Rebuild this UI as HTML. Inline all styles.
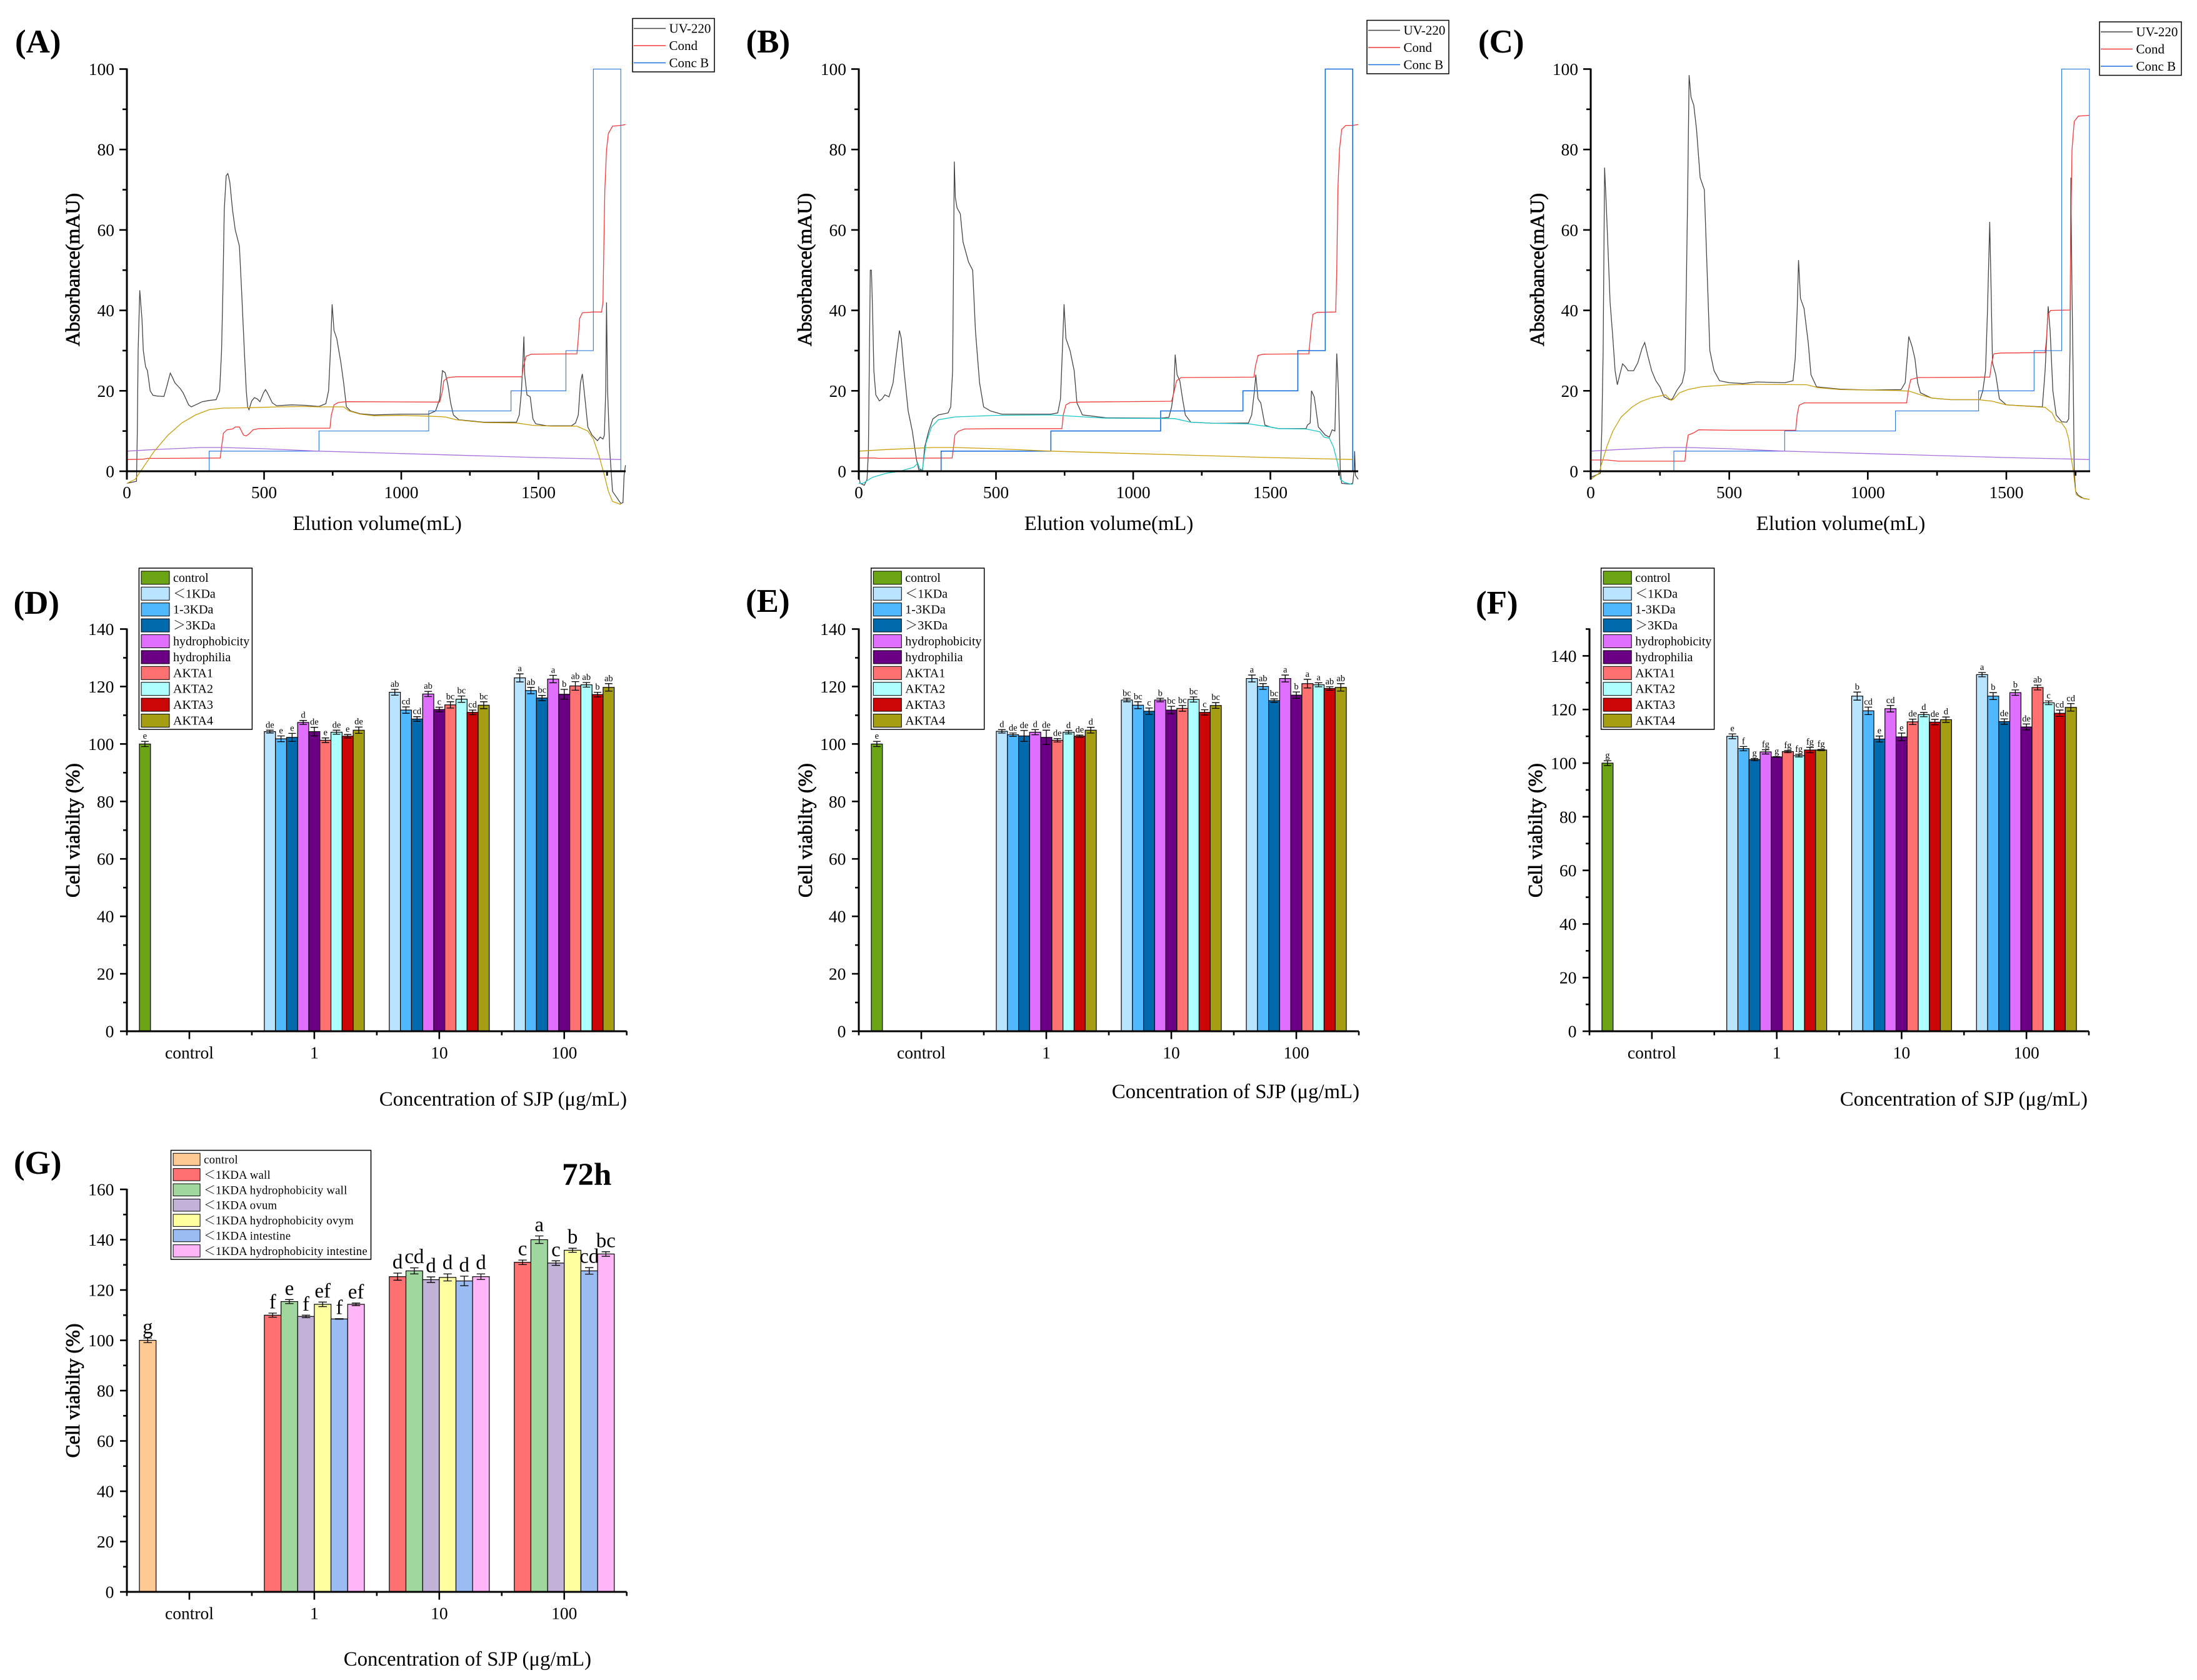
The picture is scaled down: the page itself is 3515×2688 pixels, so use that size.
<!DOCTYPE html>
<html lang="en">
<head>
<meta charset="utf-8">
<title>Chromatograms and cell viability panels</title>
<style>
html,body{margin:0;padding:0;background:#fff;}
body{width:3515px;height:2688px;overflow:hidden;}
svg{display:block;}
text{font-family:"Liberation Serif","Noto Serif CJK SC",serif;fill:#000;}
.panel-label{font-weight:bold;font-size:53px;}
.y-title{font-size:32px;stroke:#000;stroke-width:.7px;text-anchor:middle;}
.x-title{font-size:32.8px;}
</style>
</head>
<body>
<svg id="figure" xmlns="http://www.w3.org/2000/svg" width="3515" height="2688" viewBox="0 0 3515 2688">
  <rect x="0" y="0" width="3515" height="2688" fill="#fff"/>
  <g id="panel-a">
    <text class="panel-label" x="24" y="84">(A)</text>
    <text class="y-title" transform="translate(127 431.5) rotate(-90)">Absorbance(mAU)</text>
    <text class="x-title" x="603.5" y="848" text-anchor="middle">Elution volume(mL)</text>
  </g>
  <g id="panel-b">
    <text class="panel-label" x="1193.5" y="84">(B)</text>
    <text class="y-title" transform="translate(1298 431.5) rotate(-90)">Absorbance(mAU)</text>
    <text class="x-title" x="1774" y="848" text-anchor="middle">Elution volume(mL)</text>
  </g>
  <g id="panel-c">
    <text class="panel-label" x="2365" y="84">(C)</text>
    <text class="y-title" transform="translate(2470 431.5) rotate(-90)">Absorbance(mAU)</text>
    <text class="x-title" x="2945" y="848" text-anchor="middle">Elution volume(mL)</text>
  </g>
  <g id="panel-d">
    <text class="panel-label" x="21.5" y="982">(D)</text>
    <text class="y-title" transform="translate(127 1328.6) rotate(-90)">Cell viabilty (%)</text>
    <text class="x-title" x="1003" y="1769" text-anchor="end">Concentration of SJP (μg/mL)</text>
  </g>
  <g id="panel-e">
    <text class="panel-label" x="1193" y="979">(E)</text>
    <text class="y-title" transform="translate(1299 1328.6) rotate(-90)">Cell viabilty (%)</text>
    <text class="x-title" x="2175" y="1757" text-anchor="end">Concentration of SJP (μg/mL)</text>
  </g>
  <g id="panel-f">
    <text class="panel-label" x="2361" y="982">(F)</text>
    <text class="y-title" transform="translate(2467 1328.6) rotate(-90)">Cell viabilty (%)</text>
    <text class="x-title" x="3340" y="1769" text-anchor="end">Concentration of SJP (μg/mL)</text>
  </g>
  <g id="panel-g">
    <text class="panel-label" x="22" y="1878">(G)</text>
    <text x="899" y="1896" font-size="51" font-weight="bold">72h</text>
    <text class="y-title" transform="translate(127 2225) rotate(-90)">Cell viabilty (%)</text>
    <text class="x-title" x="946" y="2665" text-anchor="end">Concentration of SJP (μg/mL)</text>
  </g>
</svg>
<script>
/* ---------- Chromatogram data: [volume mL, mAU] ---------- */
const chromYTicks = [0,20,40,60,80,100];
const chromYMinor = [10,30,50,70,90];
const chromXTicks = [0,500,1000,1500];
const chromXMinor = [250,750,1250,1750];
const chromLegendLabels = ['UV-220','Cond','Conc B'];

const concB = [[0,0],[300,0],[300,5],[700,5],[700,10],[1100,10],[1100,15],[1400,15],[1400,20],[1600,20],[1600,30],[1700,30],[1700,100],[1800,100],[1800,0],[1817,0]];
const flowLine = [[0,5],[100,5.4],[270,5.9],[350,5.9],[500,5.6],[700,5],[1000,4.4],[1300,3.8],[1500,3.4],[1700,3.1],[1800,2.9]];

const aUv = [[0,-3],[35,-2.5],[38,10],[41,30],[47,45],[55,38],[60,30],[68,26],[75,25],[85,20],[95,18.9],[110,18.7],[135,18.6],[145,21],[158,24.4],[165,23.5],[175,22],[195,20.5],[205,19.5],[225,16.5],[235,16],[250,16.5],[275,17.3],[300,17.6],[325,17.8],[338,20],[345,30],[350,45],[355,65],[362,73.5],[368,74],[375,72],[385,65],[395,60],[410,56],[418,45],[428,30],[435,20],[440,16],[445,15.3],[455,17.5],[465,18.3],[475,18],[485,17.3],[498,19.5],[505,20.3],[512,19.5],[530,17],[545,16.3],[600,16.5],[650,16.4],[700,16.1],[725,16.8],[735,20],[742,30],[748,41.5],[755,35],[765,33],[780,27],[790,22],[800,16],[815,15],[850,14.3],[900,14],[1000,14.2],[1100,14.2],[1125,15],[1140,18],[1150,25],[1160,24.5],[1170,21.5],[1180,17],[1190,14],[1210,12.8],[1300,12.2],[1420,12.2],[1430,14],[1438,20],[1443,27],[1447,33.5],[1450,24],[1458,19],[1470,18.5],[1480,13],[1490,11.8],[1530,11.3],[1620,11.3],[1635,12],[1645,14],[1653,22],[1660,24.2],[1668,19],[1680,11],[1695,9],[1715,7.6],[1725,8.5],[1735,8],[1740,9],[1745,20],[1748,42],[1752,20],[1760,5],[1770,-5],[1800,-8],[1808,-7.8],[1812,-1],[1817,1.5]];
const aCond = [[0,2.9],[60,3],[75,3.2],[150,3.2],[340,3.3],[345,6],[352,9.5],[365,10.3],[385,10.5],[395,11],[410,11],[425,9],[435,8.8],[445,9.3],[460,10.3],[480,10.6],[600,10.7],[740,10.7],[745,14],[755,16.5],[770,17.1],[800,17.3],[1140,17.2],[1150,20],[1155,22.5],[1170,23.3],[1200,23.5],[1440,23.5],[1445,26],[1455,28.6],[1475,29.1],[1640,29.2],[1645,33],[1650,38],[1660,39.4],[1700,39.6],[1730,39.6],[1735,42],[1738,55],[1742,70],[1748,80],[1755,84],[1770,85.8],[1800,86],[1817,86.2]];
const aGold = [[0,-3],[30,-2],[50,0],[70,2],[100,5],[150,9],[200,12],[250,14],[300,15.3],[350,15.7],[450,15.8],[550,16],[650,16.1],[700,16],[790,16],[810,15],[850,14.2],[900,13.8],[1000,13.9],[1100,13.7],[1160,13.5],[1200,12.8],[1300,12.1],[1420,12],[1480,11.4],[1550,11.2],[1640,11.2],[1680,10],[1700,8],[1720,4],[1740,-1],[1755,-5],[1770,-7.5],[1790,-8],[1800,-8.3]];

const bUv = [[0,-1],[5,-3],[20,-3.5],[30,-2],[35,5],[38,25],[42,50],[46,50],[50,40],[55,25],[62,19],[75,17.5],[85,18],[95,19],[110,18.5],[125,22],[135,28],[148,35],[155,33],[165,25],[180,15],[195,10],[210,3],[220,0],[225,0.5],[232,0],[240,6],[255,10],[270,13],[290,14],[325,14.5],[335,16],[342,25],[345,50],[348,77],[352,68],[358,65.5],[370,64],[380,57],[400,52],[415,50],[425,35],[440,22],[455,16],[480,15],[520,14.2],[600,14.2],[700,14.2],[725,14.5],[735,18],[742,30],[748,41.5],[755,33],[770,30],[785,25],[795,17],[815,14],[900,13.3],[1100,13.2],[1130,13.4],[1140,16],[1148,20],[1153,29],[1160,24],[1170,22.5],[1180,18],[1190,14],[1210,12.2],[1300,11.9],[1420,12],[1432,14],[1442,20],[1447,24],[1455,18],[1465,17],[1480,11.5],[1500,11],[1530,10.6],[1630,10.6],[1635,11.5],[1645,12],[1650,20],[1660,18.5],[1675,11],[1700,9],[1715,8.5],[1725,10.3],[1735,10],[1742,29.3],[1748,20],[1755,0],[1760,-3],[1790,-3.2],[1800,-3],[1805,0],[1807,5],[1810,-1],[1820,-2]];
const bCond = [[0,3.3],[60,3.3],[70,3.2],[340,3.3],[345,6],[350,9],[362,9.9],[385,10.5],[500,10.6],[740,10.6],[745,14],[755,16.5],[770,17.1],[800,17.2],[1140,17.4],[1150,20],[1158,22.5],[1175,23.3],[1440,23.4],[1445,26],[1455,28.8],[1475,29.1],[1640,29.2],[1648,35],[1655,39],[1670,39.5],[1738,39.6],[1742,50],[1746,70],[1752,80],[1760,85],[1775,86],[1800,86],[1820,86.2]];
const bTeal = [[0,-3],[15,-3],[50,-1.5],[100,-0.5],[150,0],[200,1],[215,2],[225,0],[232,0.5],[245,7],[265,11],[290,12.8],[350,13.5],[500,13.9],[700,14],[900,13.2],[1150,13.1],[1210,12.2],[1300,11.9],[1420,11.8],[1500,11],[1530,10.6],[1630,10.5],[1680,9.8],[1695,8.5],[1715,8.2],[1730,6],[1745,2],[1755,-2],[1770,-2.8],[1800,-3.3]];

const cUv = [[0,-1.5],[35,-0.5],[40,10],[45,30],[50,75.5],[55,68],[62,56],[70,42],[79,34],[88,25],[96,21.5],[105,24],[115,26.7],[125,26],[135,25],[155,25],[170,27],[185,30.5],[195,32],[205,29],[220,25],[235,22.5],[250,21],[265,18.5],[285,17.8],[295,18],[310,20],[330,22],[340,25],[345,45],[350,70],[355,98.5],[362,93],[372,91],[382,85],[395,73],[410,70],[420,50],[430,30],[445,25],[465,22.5],[500,22],[550,21.8],[600,22.2],[700,22],[730,22.5],[738,28],[745,40],[750,52.5],[757,43],[770,40.5],[785,32],[795,24],[815,21],[900,20.4],[1000,20.2],[1120,20.3],[1135,22],[1142,28],[1148,33.5],[1160,31],[1170,28],[1180,22],[1190,19.5],[1230,18.2],[1300,17.8],[1405,17.8],[1415,20],[1425,25],[1432,40],[1440,62],[1445,45],[1450,27],[1462,24],[1475,18],[1500,16.5],[1630,16],[1640,25],[1651,41],[1658,35],[1668,20],[1680,14],[1700,12.3],[1718,12.2],[1725,13],[1730,30],[1733,73],[1737,45],[1742,20],[1745,0],[1750,-5],[1760,-6],[1780,-6.8],[1800,-7]];
const cCond = [[0,2.8],[60,2.8],[100,2.5],[340,2.5],[345,6],[352,9],[370,9.5],[390,10.3],[500,10.2],[740,10.2],[745,14],[752,16.4],[770,17],[1140,17],[1146,20],[1155,22.8],[1180,23.3],[1440,23.4],[1447,27],[1455,29.2],[1480,29.4],[1640,29.5],[1645,33],[1650,39],[1660,40],[1730,40.1],[1733,60],[1737,80],[1745,87],[1760,88.3],[1800,88.5]];
const cGold = [[0,-2],[30,-0.5],[40,2],[60,6.5],[80,10],[110,13.5],[150,16],[180,17.3],[220,18.3],[270,19],[290,17.6],[300,18],[320,19.5],[350,20.3],[400,21],[500,21.5],[600,21.6],[780,21.5],[820,20.8],[900,20.3],[1100,20.1],[1150,19.9],[1190,19],[1230,18.2],[1300,17.8],[1400,17.8],[1450,17.4],[1500,16.5],[1640,15.9],[1665,14.5],[1680,12.5],[1700,12],[1715,10.5],[1725,8],[1735,3],[1742,0],[1748,-4],[1752,-5.8],[1770,-6.6],[1800,-7]];

/* ---------- Bar chart data ---------- */
const categories = ['control','1','10','100'];
const legendNineSeries = ['control','＜1KDa','1-3KDa','＞3KDa','hydrophobicity','hydrophilia','AKTA1','AKTA2','AKTA3','AKTA4'];
const legendSevenSeries = ['control','＜1KDA wall','＜1KDA hydrophobicity wall','＜1KDA ovum','＜1KDA hydrophobicity ovym','＜1KDA intestine','＜1KDA hydrophobicity intestine'];

const dValControl = [100];
const dVal1 = [104.3,101.8,102.3,107.5,104.3,101.3,104.1,102.7,104.8];
const dVal10 = [118,111.8,108.7,117.4,112,113.6,115.6,111,113.5];
const dVal100 = [123,118.6,116,122.6,117.3,120.2,120.6,117.2,119.7];
const dErrControl = [0.9];
const dErr1 = [0.5,1,1.4,0.7,1.5,0.8,0.7,0.6,1.1];
const dErr10 = [1,1.1,0.8,0.9,0.8,1.1,1.1,0.8,1.2];
const dErr100 = [1.4,1.1,0.9,1.3,1.7,1.5,0.8,0.8,1.3];
const dSigControl = ['e'];
const dSig1 = ['de','e','e','d','de','e','de','e','de'];
const dSig10 = ['ab','cd','cd','ab','c','bc','bc','cd','bc'];
const dSig100 = ['a','ab','bc','a','b','ab','ab','b','ab'];

const eValControl = [100];
const eVal1 = [104.4,103.2,102.8,104.1,102.3,101.3,104.1,102.7,104.8];
const eVal10 = [115.3,113.5,111.4,115.3,111.8,112.4,115.5,111,113.4];
const eVal100 = [122.8,120,115.1,122.8,117,121,120.6,119.3,119.7];
const eErrControl = [0.9];
const eErr1 = [0.6,0.6,1.9,0.9,2.5,0.6,0.6,0.4,1];
const eErr10 = [0.6,1.2,1.1,0.6,1.3,1,0.9,0.9,1];
const eErr100 = [1.2,1,0.6,1.2,1.1,1.5,0.7,0.6,1.3];
const eSigControl = ['e'];
const eSig1 = ['d','de','de','d','de','de','d','de','d'];
const eSig10 = ['bc','bc','c','b','bc','bc','bc','c','bc'];
const eSig100 = ['a','ab','bc','a','b','a','a','ab','ab'];

const fValControl = [100];
const fVal1 = [110,105.4,101.3,104.2,102.3,104.3,102.8,104.9,104.9];
const fVal10 = [125,119.5,109,120.3,109.8,115.4,118.1,115.3,116.2];
const fVal100 = [133,125,115.5,126.3,113.5,128.2,122.5,118.6,120.8];
const fErrControl = [0.9];
const fErr1 = [0.9,0.8,0.4,0.8,0.1,0.4,0.5,1,0.2];
const fErr10 = [1.5,1.4,1.1,1.2,1.4,1,0.8,1,1];
const fErr100 = [0.8,1.3,1,1,1.1,0.9,0.7,1.2,1.4];
const fSigControl = ['g'];
const fSig1 = ['e','f','g','fg','g','fg','fg','fg','fg'];
const fSig10 = ['b','cd','e','cd','e','de','d','de','d'];
const fSig100 = ['a','b','de','b','de','ab','c','cd','cd'];

const gValControl = [100];
const gVal1 = [110,115.4,109.5,114.3,108.5,114.3];
const gVal10 = [125.3,127.6,124.1,125,123.6,125.3];
const gVal100 = [131,140,130.7,135.8,127.6,134.3];
const gErrControl = [0.9];
const gErr1 = [0.8,0.8,0.5,0.9,0.1,0.5];
const gErr10 = [1.4,1.2,1.1,1.4,1.9,1.1];
const gErr100 = [0.9,1.5,0.9,0.8,1.3,0.9];
const gSigControl = ['g'];
const gSig1 = ['f','e','f','ef','f','ef'];
const gSig10 = ['d','cd','d','d','d','d'];
const gSig100 = ['c','a','c','b','cd','bc'];

const ticksTo140 = [0,20,40,60,80,100,120,140];
const minorTo140 = [10,30,50,70,90,110,130];
const minorTo150 = [10,30,50,70,90,110,130,150];
const ticksTo160 = [0,20,40,60,80,100,120,140,160];
const minorTo160 = [10,30,50,70,90,110,130,150];

/* ---------- Colours ---------- */
const nineColors = ['#6ba515','#b8e4ff','#4fb8ff','#006aac','#e06eff','#6b0085','#ff7070','#adffff','#cc0606','#a69e12'];
const sevenColors = ['#ffc993','#ff7070','#9fd79e','#c2b2d8','#ffffa0','#9bbbf3','#ffb5f8'];

const NS = 'http://www.w3.org/2000/svg';
function add(parent, tag, attrs, txt){
  const el = document.createElementNS(NS, tag);
  for (const k in attrs) el.setAttribute(k, attrs[k]);
  if (txt !== undefined) el.textContent = txt;
  parent.appendChild(el);
  return el;
}

function drawChrom(id, o){
  const root = document.getElementById(id);
  const sx = v => o.x0 + v * o.k;
  const sy = v => o.y0 + (o.y100 - o.y0) * v / 100;

  o.series.forEach(s => {
    const d = s.data.map((p, i) => (i ? 'L' : 'M') + sx(p[0]).toFixed(1) + ' ' + sy(p[1]).toFixed(1)).join('');
    const line = add(root, 'path', {d: d, fill: 'none', stroke: s.color, 'stroke-width': s.w || 1.3, 'stroke-linejoin': 'miter'});
    
    
  });

  const yAxis = add(root, 'line', {x1: o.x0, x2: o.x0, y1: o.y100 - 1, y2: o.y0 + 13, stroke: '#000', 'stroke-width': 3});
  
  
  const xAxis = add(root, 'line', {x1: o.x0 - 1, x2: o.xEnd, y1: o.y0, y2: o.y0, stroke: '#000', 'stroke-width': 3});
  
  

  chromYTicks.forEach(v => {
    const t = add(root, 'line', {x1: o.x0 - 12, x2: o.x0, y1: sy(v), y2: sy(v), stroke: '#000', 'stroke-width': 2.6});
    
    
    const l = add(root, 'text', {x: o.x0 - 20, y: sy(v) + 9.5, 'font-size': 27.5, 'text-anchor': 'end'}, String(v));
    
    
  });
  chromYMinor.forEach(v => {
    const t = add(root, 'line', {x1: o.x0 - 7, x2: o.x0, y1: sy(v), y2: sy(v), stroke: '#000', 'stroke-width': 2.6});
    
    
  });
  chromXTicks.forEach(v => {
    const t = add(root, 'line', {x1: sx(v), x2: sx(v), y1: o.y0, y2: o.y0 + 13.5, stroke: '#000', 'stroke-width': 2.6});
    
    
    const l = add(root, 'text', {x: sx(v), y: o.y0 + 43, 'font-size': 27.5, 'text-anchor': 'middle'}, String(v));
    
    
  });
  chromXMinor.forEach(v => {
    const t = add(root, 'line', {x1: sx(v), x2: sx(v), y1: o.y0, y2: o.y0 + 7, stroke: '#000', 'stroke-width': 2.6});
    
    
  });

  const box = add(root, 'rect', {x: o.lx, y: o.ly, width: 131, height: 85.5, fill: '#fff', stroke: '#000', 'stroke-width': 1.5});
  
  
  chromLegendLabels.forEach((label, i) => {
    const yy = o.ly + 16 + i * 27.5;
    const ln = add(root, 'line', {x1: o.lx + 2, x2: o.lx + 53, y1: yy, y2: yy, stroke: o.series[i].color, 'stroke-width': 1.4});
    
    
    const tx = add(root, 'text', {x: o.lx + 58.5, y: yy + 7, 'font-size': 21}, label);
    
    
  });
}

function drawBars(id, o){
  const root = document.getElementById(id);
  const sy = v => o.y0 + (o.yTop - o.y0) * v / o.yMax;
  const catW = (o.xEnd - o.x0) / categories.length;
  const slot = catW * 0.8 / o.slots;

  o.values.forEach((vals, c) => {
    vals.forEach((v, i) => {
      const colorIdx = c === 0 ? 0 : i + 1;
      const left = o.x0 + c * catW + catW * 0.1 + i * slot;
      const bar = add(root, 'rect', {x: left.toFixed(1), y: sy(v).toFixed(1), width: slot.toFixed(1), height: (o.y0 - sy(v)).toFixed(1), fill: o.colors[colorIdx], stroke: '#000', 'stroke-width': 1.2});
      
      
      const cx = left + slot / 2;
      const err = o.errors[c][i];
      const top = sy(v + err), bot = sy(v - err);
      const eb = add(root, 'path', {d: 'M' + cx + ' ' + top + 'V' + bot + 'M' + (cx - o.cap) + ' ' + top + 'H' + (cx + o.cap) + 'M' + (cx - o.cap) + ' ' + bot + 'H' + (cx + o.cap), fill: 'none', stroke: '#000', 'stroke-width': 1.3});
      
      
      const sig = add(root, 'text', {x: cx, y: top - o.sigGap, 'font-size': o.sigSize, 'text-anchor': 'middle'}, o.letters[c][i]);
      
      
    });
  });

  const yAxis = add(root, 'line', {x1: o.x0, x2: o.x0, y1: o.yTop - 1, y2: o.y0 + 1, stroke: '#000', 'stroke-width': 3});
  
  
  const xAxis = add(root, 'line', {x1: o.x0 - 1, x2: o.xEnd, y1: o.y0, y2: o.y0, stroke: '#000', 'stroke-width': 3});
  
  

  o.ticks.forEach(v => {
    const t = add(root, 'line', {x1: o.x0 - 11, x2: o.x0, y1: sy(v), y2: sy(v), stroke: '#000', 'stroke-width': 2.6});
    
    
    const l = add(root, 'text', {x: o.x0 - 20.5, y: sy(v) + 9.5, 'font-size': 27.7, 'text-anchor': 'end'}, String(v));
    
    
  });
  o.minor.forEach(v => {
    const t = add(root, 'line', {x1: o.x0 - 6, x2: o.x0, y1: sy(v), y2: sy(v), stroke: '#000', 'stroke-width': 2.6});
    
    
  });
  categories.forEach((cat, c) => {
    const cx = o.x0 + (c + 0.5) * catW;
    const t = add(root, 'line', {x1: cx, x2: cx, y1: o.y0, y2: o.y0 + 12.5, stroke: '#000', 'stroke-width': 2.6});
    
    
    const l = add(root, 'text', {x: cx, y: o.y0 + 43.5, 'font-size': 27.5, 'text-anchor': 'middle'}, cat);
    
    
    const e = o.x0 + c * catW;
    const m = add(root, 'line', {x1: e, x2: e, y1: o.y0, y2: o.y0 + 6.5, stroke: '#000', 'stroke-width': 2.6});
    
    
  });
  const last = add(root, 'line', {x1: o.xEnd, x2: o.xEnd, y1: o.y0, y2: o.y0 + 6.5, stroke: '#000', 'stroke-width': 2.6});
  
  

  const L = o.legend;
  const box = add(root, 'rect', {x: L.x, y: L.y, width: L.w, height: L.h, fill: '#fff', stroke: '#000', 'stroke-width': 1.5});
  
  
  L.labels.forEach((label, i) => {
    const yy = L.y + L.first + i * L.step;
    const sw = add(root, 'rect', {x: L.x + 3.6, y: yy - L.sh / 2, width: L.sw, height: L.sh, fill: o.colors[i], stroke: '#000', 'stroke-width': 1});
    
    
    const tx = add(root, 'text', {x: L.x + L.sw + 9.6, y: yy + 6.5, 'font-size': L.size, 'letter-spacing': L.ls}, label);
    
    
  });
}

const UV = '#444444', RED = '#f23a3a', BLUE = '#1a6fdf', PURPLE = '#a96fdc', GOLD = '#c99f0c', TEAL = '#1ac7cb';

drawChrom('panel-a', {x0: 203, k: 0.439, xEnd: 1001, y0: 754, y100: 110.5, lx: 1012, ly: 29.5, series: [
  {name: 'uv-220', data: aUv, color: UV},
  {name: 'cond', data: aCond, color: RED},
  {name: 'conc-b', data: concB, color: BLUE, w: 1.05},
  {name: 'flow', data: flowLine, color: PURPLE},
  {name: 'baseline', data: aGold, color: GOLD}
]});
drawChrom('panel-b', {x0: 1374, k: 0.439, xEnd: 2173, y0: 754, y100: 110.5, lx: 2187, ly: 32.5, series: [
  {name: 'uv-220', data: bUv, color: UV},
  {name: 'cond', data: bCond, color: RED},
  {name: 'conc-b', data: concB, color: BLUE, w: 1.6},
  {name: 'flow', data: flowLine, color: GOLD},
  {name: 'baseline', data: bTeal, color: TEAL}
]});
drawChrom('panel-c', {x0: 2545, k: 0.4433, xEnd: 3344, y0: 754, y100: 110.5, lx: 3359, ly: 35, series: [
  {name: 'uv-220', data: cUv, color: UV},
  {name: 'cond', data: cCond, color: RED},
  {name: 'conc-b', data: concB.slice(0, -1), color: BLUE, w: 1.05},
  {name: 'flow', data: flowLine, color: PURPLE},
  {name: 'baseline', data: cGold, color: GOLD}
]});

function nineLegend(x){
  return {x: x, y: 909, w: 181, h: 258, first: 15.4, step: 25.4, sw: 45, sh: 21, size: 20, ls: 0, labels: legendNineSeries};
}
drawBars('panel-d', {x0: 203, xEnd: 1002.7, y0: 1650, yTop: 1006.5, yMax: 140, slots: 9, ticks: ticksTo140, minor: minorTo140, colors: nineColors, cap: 6, sigGap: 4, sigSize: 14.5,
  values: [dValControl, dVal1, dVal10, dVal100], errors: [dErrControl, dErr1, dErr10, dErr100], letters: [dSigControl, dSig1, dSig10, dSig100], legend: nineLegend(222.4)});
drawBars('panel-e', {x0: 1374, xEnd: 2174, y0: 1650, yTop: 1006.5, yMax: 140, slots: 9, ticks: ticksTo140, minor: minorTo140, colors: nineColors, cap: 6, sigGap: 4, sigSize: 14.5,
  values: [eValControl, eVal1, eVal10, eVal100], errors: [eErrControl, eErr1, eErr10, eErr100], letters: [eSigControl, eSig1, eSig10, eSig100], legend: nineLegend(1393.7)});
drawBars('panel-f', {x0: 2543, xEnd: 3342, y0: 1650, yTop: 1006.5, yMax: 150, slots: 9, ticks: ticksTo140, minor: minorTo150, colors: nineColors, cap: 6, sigGap: 4, sigSize: 14.5,
  values: [fValControl, fVal1, fVal10, fVal100], errors: [fErrControl, fErr1, fErr10, fErr100], letters: [fSigControl, fSig1, fSig10, fSig100], legend: nineLegend(2561.6)});
drawBars('panel-g', {x0: 203, xEnd: 1002.7, y0: 2547, yTop: 1903, yMax: 160, slots: 6, ticks: ticksTo160, minor: minorTo160, colors: sevenColors, cap: 6.7, sigGap: 7.5, sigSize: 33,
  values: [gValControl, gVal1, gVal10, gVal100], errors: [gErrControl, gErr1, gErr10, gErr100], letters: [gSigControl, gSig1, gSig10, gSig100],
  legend: {x: 273.5, y: 1840.5, w: 320, h: 174.5, first: 14.5, step: 24.4, sw: 43, sh: 19.5, size: 18.7, ls: 0.25, labels: legendSevenSeries}});
</script>
</body>
</html>
